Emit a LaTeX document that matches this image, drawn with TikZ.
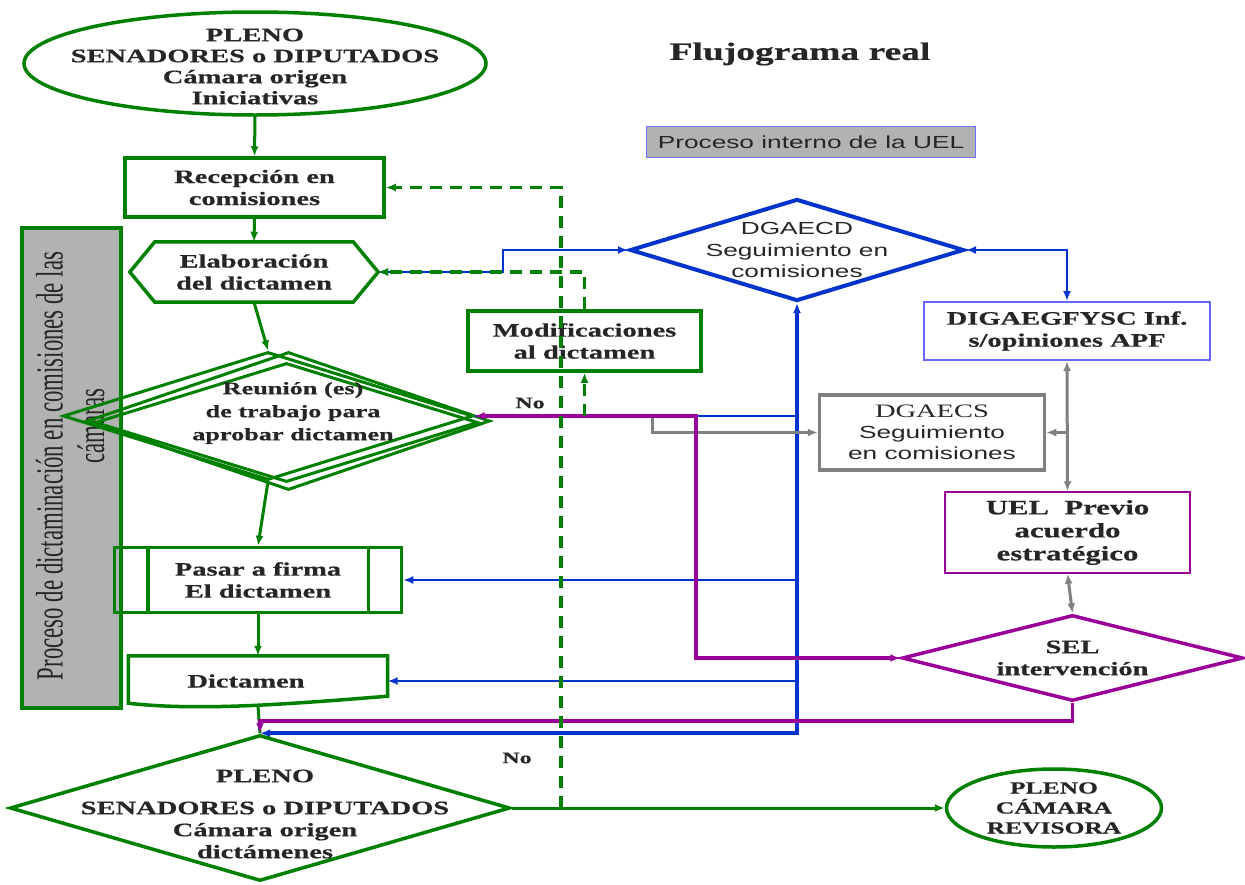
\documentclass[tikz,border=0pt]{standalone}
\usepackage{graphicx}
\usepackage{fontspec}
\setmainfont{Liberation Serif}[FakeStretch=1.5, BoldFeatures={FakeBold=0.6}]
\newfontfamily\sansw{Liberation Sans}[FakeStretch=1.5]
\newfontfamily\serifn{Liberation Serif}
\usetikzlibrary{shapes.geometric,arrows.meta,calc}

\definecolor{grn}{RGB}{0,128,0}
\definecolor{blu}{RGB}{0,51,204}
\definecolor{pur}{RGB}{153,0,153}
\definecolor{gry}{RGB}{128,128,128}
\definecolor{ink}{RGB}{38,38,38}
\definecolor{panel}{RGB}{178,178,178}
\definecolor{legbd}{RGB}{110,110,255}
\definecolor{digbd}{RGB}{102,102,255}

\tikzset{
  txt/.style={text=ink, align=center, font=\fontsize{19}{22}\selectfont\bfseries, inner sep=0pt},
  stxt/.style={text=ink, align=center, font=\sansw\fontsize{17.5}{21.5}\selectfont, inner sep=0pt},
  gbox/.style={draw=grn, line width=3.5pt, inner sep=0pt},
  gline/.style={draw=grn, line width=3pt, ->},
  gdash/.style={draw=grn, line width=3.5pt, dash pattern=on 12pt off 8pt, ->},
  bthin/.style={draw=blu, line width=2.5pt},
  bthick/.style={draw=blu, line width=4pt},
  gconn/.style={draw=gry, line width=3pt},
  pconn/.style={draw=pur, line width=3.5pt},
}

\begin{document}
\begin{tikzpicture}[x=1pt, y=-1pt, >={Latex[length=10pt,width=8pt]}]
\useasboundingbox (0,0) rectangle (1245,884);

% side panel of the commission process
\node[draw=grn, fill=panel, line width=3.5pt, minimum width=99pt, minimum height=480pt, inner sep=0pt] (panel) at (71.5,468) {};
\node[rotate=90, text=ink, inner sep=0pt] (panel-t) at (75,466)
  {\scalebox{0.95}[1.6]{\serifn\fontsize{24}{26}\selectfont\begin{tabular}{@{}c@{}}Proceso de dictaminación en comisiones de las\\\hspace*{84pt}cámaras\end{tabular}}};

% title and legend
\node[txt, font=\fontsize{25}{30}\selectfont\bfseries] (title) at (800,54) {Flujograma real};
\node[draw=legbd, fill=panel, line width=1.5pt, minimum width=329pt, minimum height=31pt, stxt] (legend) at (811,142) {Proceso interno de la UEL};

% main flow
\node[ellipse, draw=grn, line width=3.5pt, minimum width=462pt, minimum height=103pt, inner sep=0pt,
  label={[txt, font=\fontsize{19}{21}\selectfont\bfseries, yshift=-3pt]center:{PLENO\\SENADORES o DIPUTADOS\\Cámara origen\\Iniciativas}}] (ini) at (255,63.5) {};

\node[gbox, txt, minimum width=259pt, minimum height=59pt] (recep) at (254.5,187.5) {Recepción en\\comisiones};

\node[txt, minimum width=248pt, minimum height=60pt] (elab) at (254,272) {Elaboración\\del dictamen};
\draw[grn, line width=3.5pt] (elab.west) -- ([xshift=25pt]elab.north west) -- ([xshift=-25pt]elab.north east)
  -- (elab.east) -- ([xshift=-25pt]elab.south east) -- ([xshift=25pt]elab.south west) -- cycle;

\node[gbox, txt, minimum width=233pt, minimum height=60pt] (mod) at (584.5,341) {Modificaciones\\al dictamen};

\node[diamond, draw=grn, line width=3pt, minimum width=410pt, minimum height=128pt, inner sep=0pt] (dm1) at (268,416) {};
\node[diamond, draw=grn, line width=3pt, minimum width=403pt, minimum height=138pt, inner sep=0pt] (dm2) at (288.5,421) {};
\node[diamond, draw=grn, line width=3pt, minimum width=383pt, minimum height=119pt, inner sep=0pt] (dm3) at (286.5,422.5) {};
\node[txt, font=\fontsize{17.5}{23}\selectfont\bfseries] (dm-t) at (293,413) {Reunión (es)\\de trabajo para\\aprobar dictamen};

\node[gbox, txt, minimum width=287pt, minimum height=65pt] (pasar) at (258,580) {Pasar a firma\\El dictamen};
\draw[grn, line width=3.5pt] ([xshift=35pt]pasar.north west) -- ([xshift=35pt]pasar.south west)
  ([xshift=-35pt]pasar.north east) -- ([xshift=-35pt]pasar.south east);

\node[minimum width=259pt, minimum height=50pt, inner sep=0pt,
  label={[txt, xshift=-12pt]center:Dictamen}] (dict) at (258,681) {};
\draw[grn, line width=3.5pt] (dict.north west) -- (dict.north east) -- ([yshift=10pt]dict.south east)
  .. controls +(-100,8) and +(70,8) .. ([yshift=3pt]dict.south west) -- cycle;

\node[diamond, draw=grn, line width=3.5pt, minimum width=500pt, minimum height=146pt, inner sep=0pt,
  label={[txt, xshift=5pt, yshift=-6pt]center:{PLENO\\[10pt]SENADORES o DIPUTADOS\\Cámara origen\\dictámenes}}] (fin) at (260,808) {};

\node[ellipse, draw=grn, line width=3.5pt, minimum width=215pt, minimum height=78pt, inner sep=0pt,
  label={[txt, font=\fontsize{17}{20}\selectfont\bfseries]center:{PLENO\\CÁMARA\\REVISORA}}] (rev) at (1054,808) {};

% internal process of the unit
\node[diamond, draw=blu, line width=4pt, minimum width=334pt, minimum height=102pt, inner sep=0pt,
  label={[stxt]center:{DGAECD\\Seguimiento en\\comisiones}}] (dgaecd) at (797,250) {};
\node[draw=digbd, line width=2pt, txt, minimum width=286pt, minimum height=58pt] (digae) at (1067,331) {DIGAEGFYSC Inf.\\s/opiniones APF};
\node[draw=gry, line width=3.5pt, stxt, font=\sansw\fontsize{17.5}{21}\selectfont, minimum width=225pt, minimum height=75pt] (dgaecs) at (932,432.5)
  {{\rmfamily\fontsize{19}{21}\selectfont DGAECS}\\Seguimiento\\en comisiones};
\node[draw=pur, line width=1.5pt, txt, font=\fontsize{20.5}{23}\selectfont\bfseries, minimum width=245pt, minimum height=81pt] (uel) at (1067.5,532.5)
  {UEL\ \ Previo\\acuerdo\\estratégico};
\node[diamond, draw=pur, line width=3.5pt, minimum width=341pt, minimum height=86pt, inner sep=0pt,
  label={[txt]center:{SEL\\intervención}}] (sel) at (1072.5,658) {};

% green flow connectors
\draw[gline] (ini.south) -- (recep.north);
\draw[gline] (recep.south) -- (elab.north);
\draw[gline] (elab.south) -- (dm1.north);
\draw[gline] (dm1.south) -- (pasar.north);
\draw[gline] (pasar.south) -- (dict.north);
\draw[grn, line width=3pt] (dict.south) -- (fin.north);
\draw[gline] (fin.east) -- (rev.west);

% blue follow-up connectors
\draw[bthin] (dgaecd.south |- dm1.east) -- (dm1.east);
\draw[bthin, ->] (dgaecd.south |- pasar.east) -- (pasar.east);
\draw[bthin, ->] (dgaecd.south |- dict.east) -- (dict.east);
\draw[bthin, <->] (elab.east) -| ($(elab.east)!0.5!(dgaecd.west)$) |- (dgaecd.west);
\draw[bthin, <->] (dgaecd.east) -| (digae.north);
\draw[bthick, <->] (fin.north) -- (fin.north -| dgaecd.south) -- (dgaecd.south);

% grey connectors
\coordinate (gfork) at (652,416);
\draw[gconn, <->] (digae.south) -- (uel.north);
\draw[gconn, ->] (digae.south |- dgaecs.east) -- (dgaecs.east);
\draw[gconn, ->] (gfork) |- (dgaecs.west);
\draw[gconn, <->] (uel.south) -- (sel.north);

% purple connectors
\coordinate (pcol) at (696,540);
\draw[pconn, <->] (dm1.east) -| (pcol) |- (sel.west);
\draw[pconn, ->] (sel.south) -- ++(0,18) -| (fin.north);

% dashed return paths
\coordinate (dfork) at (561,808);
\draw[gdash] (dfork) |- (recep.east);
\draw[gdash] (mod.north) |- (elab.east);
\draw[gdash] (mod.south |- dm1.east) -- (mod.south);

% labels
\node[txt, font=\fontsize{16}{18}\selectfont\bfseries] (no1) at (530,403) {No};
\node[txt, font=\fontsize{16}{18}\selectfont\bfseries] (no2) at (517,758) {No};
\end{tikzpicture}
\end{document}
